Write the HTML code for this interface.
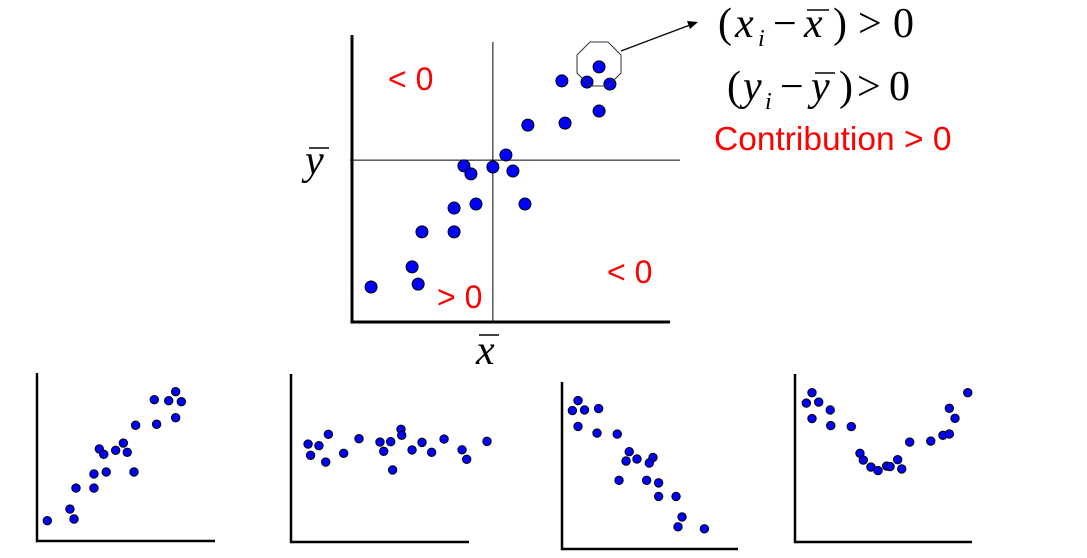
<!DOCTYPE html>
<html><head><meta charset="utf-8">
<style>
html,body{margin:0;padding:0;background:#fff;}
svg{display:block;}
.serif{font-family:"Liberation Serif",serif;}
.sans{font-family:"Liberation Sans",sans-serif;}
</style></head>
<body>
<svg id="chart" width="1087" height="558" viewBox="0 0 1087 558" xmlns="http://www.w3.org/2000/svg">
  <g id="annot">
    <text class="sans" x="388" y="90" font-size="32" fill="#ff0000">&lt; 0</text>
    <text class="sans" x="437" y="308" font-size="32" fill="#ff0000">&gt; 0</text>
    <text class="sans" x="607" y="283" font-size="32" fill="#ff0000">&lt; 0</text>
    <g>
      <text class="serif" x="305" y="174" font-size="42" font-style="italic">y</text>
      <line x1="309" y1="148" x2="329" y2="148" stroke="#000" stroke-width="1.5"/>
    </g>
    <g>
      <text class="serif" x="476" y="364" font-size="42" font-style="italic">x</text>
      <line x1="479" y1="335" x2="499" y2="335" stroke="#000" stroke-width="1.5"/>
    </g>
    <g class="serif" font-size="42">
      <text x="718" y="37">(</text>
      <text x="735" y="37" font-style="italic">x</text>
      <text x="758" y="46" font-size="24" font-style="italic">i</text>
      <text x="773" y="37">−</text>
      <text x="804" y="37" font-style="italic">x</text>
      <line x1="807" y1="10" x2="829" y2="10" stroke="#000" stroke-width="1.5"/>
      <text x="833" y="37">)</text>
      <text x="858" y="37">&gt;</text>
      <text x="893" y="37">0</text>
    </g>
    <g class="serif" font-size="42">
      <text x="727" y="100">(</text>
      <text x="743" y="100" font-style="italic">y</text>
      <text x="765" y="109" font-size="24" font-style="italic">i</text>
      <text x="780" y="100">−</text>
      <text x="811" y="100" font-style="italic">y</text>
      <line x1="815" y1="73" x2="835" y2="73" stroke="#000" stroke-width="1.5"/>
      <text x="839" y="100">)</text>
      <text x="857" y="100">&gt;</text>
      <text x="889" y="100">0</text>
    </g>
    <text class="sans" x="714" y="150" font-size="33.5" fill="#ff0000">Contribution &gt; 0</text>
    <polygon points="590,42 608,42 621,55 621,73 608,86 590,86 577,73 577,55" fill="none" stroke="#333" stroke-width="1"/>
    <line x1="621" y1="51" x2="690" y2="25" stroke="#000" stroke-width="1.3"/>
    <polygon points="698,22 687,21 690,29" fill="#000"/>
  </g>
</svg>
<script>
// Main chart data (domain 0-100)
const mainX = [6.0,18.9,20.8,22.0,32.1,32.1,39.0,35.2,37.4,44.3,48.4,50.6,54.4,55.3,67.0,66.0,73.9,77.7,81.1,77.7];
const mainY = [12.2,19.2,13.2,31.4,31.4,39.7,41.1,54.4,51.6,54.0,58.2,52.6,41.1,68.6,69.3,84.0,83.6,88.9,82.9,73.5];
const meanX = 44.3;
const meanY = 56.4;
// Small panels (domain 0-10)
const p1X = [0.58,1.85,2.08,2.19,3.20,3.20,3.89,3.50,3.75,4.42,4.85,5.07,5.45,5.54,6.72,6.59,7.40,7.79,8.11,7.79];
const p1Y = [1.21,1.90,1.31,3.15,3.15,3.99,4.11,5.48,5.16,5.40,5.83,5.28,4.11,6.89,6.95,8.41,8.35,8.89,8.29,7.34];
const p2X = [0.96,1.10,1.57,1.95,2.10,2.96,3.82,5.00,5.21,5.60,5.71,6.18,6.22,6.80,7.36,7.90,8.60,9.61,9.87,11.01];
const p2Y = [5.83,5.16,5.73,4.76,6.41,5.28,6.15,5.95,5.40,5.97,4.29,6.71,6.35,5.48,5.93,5.34,6.13,5.49,4.92,5.99];
const p3X = [0.59,0.91,1.28,2.08,0.91,1.99,3.14,3.82,3.64,4.26,5.17,4.96,3.24,4.81,5.49,5.49,6.48,6.82,6.59,8.09];
const p3Y = [8.29,8.89,8.33,8.41,7.34,6.94,6.88,5.83,5.27,5.39,5.48,5.15,4.11,4.11,3.96,3.15,3.15,1.92,1.33,1.21];
const p4X = [0.64,0.96,1.34,0.96,1.99,2.02,3.18,3.67,3.86,4.29,4.69,5.18,5.37,5.80,6.03,6.48,7.67,8.36,8.72,8.72,9.04,9.76];
const p4Y = [8.27,8.89,8.33,7.35,7.86,6.93,6.87,5.28,4.88,4.46,4.25,4.52,4.49,4.90,4.35,5.95,6.01,6.35,6.43,7.96,7.36,8.89];

const NS = 'http://www.w3.org/2000/svg';
const svg = document.getElementById('chart');
function mk(tag, attrs, parent){
  const e = document.createElementNS(NS, tag);
  for (const k in attrs) e.setAttribute(k, attrs[k]);
  parent.appendChild(e);
  return e;
}
function panel(name, box, dom, xs, ys, r, axisW){
  const g = mk('g', {}, svg);
  
  
  const sx = v => box.x0 + (v/dom)*(box.x1-box.x0);
  const sy = v => box.y1 - (v/dom)*(box.y1-box.y0);
  const ya = mk('line', {x1:box.x0, y1:box.y0, x2:box.x0, y2:box.y1+axisW/2, stroke:'#000','stroke-width':axisW}, g);
  
  
  const xa = mk('line', {x1:box.x0, y1:box.y1, x2:box.x1, y2:box.y1, stroke:'#000','stroke-width':axisW}, g);
  
  
  for (let i=0;i<xs.length;i++){
    const c = mk('circle', {cx:sx(xs[i]), cy:sy(ys[i]), r:r, fill:'#0000ff', stroke:'#000','stroke-width':1}, g);
    
    
  }
  return {g, sx, sy};
}
const mainBox = {x0:352, x1:670, y0:35, y1:322};
const m = panel('main-scatter', mainBox, 100, [], [], 6, 3);
const vl = mk('line', {x1:m.sx(meanX), y1:42, x2:m.sx(meanX), y2:322, stroke:'#000','stroke-width':1}, m.g);


const hl = mk('line', {x1:350, y1:m.sy(meanY), x2:680, y2:m.sy(meanY), stroke:'#000','stroke-width':1}, m.g);


for (let i=0;i<mainX.length;i++){
  const c = mk('circle', {cx:m.sx(mainX[i]), cy:m.sy(mainY[i]), r:6, fill:'#0000ff', stroke:'#000','stroke-width':1}, m.g);
  
  
}
svg.appendChild(document.getElementById('annot'));
panel('positive-correlation-panel', {x0:37, x1:215, y0:373, y1:541}, 10, p1X, p1Y, 4.2, 2.5);
panel('no-correlation-panel', {x0:291, x1:469, y0:374, y1:542}, 10, p2X, p2Y, 4.2, 2.5);
panel('negative-correlation-panel', {x0:562, x1:738, y0:382, y1:549}, 10, p3X, p3Y, 4.2, 2.5);
panel('nonlinear-panel', {x0:795, x1:972, y0:374, y1:542}, 10, p4X, p4Y, 4.2, 2.5);
</script>
</body></html>
